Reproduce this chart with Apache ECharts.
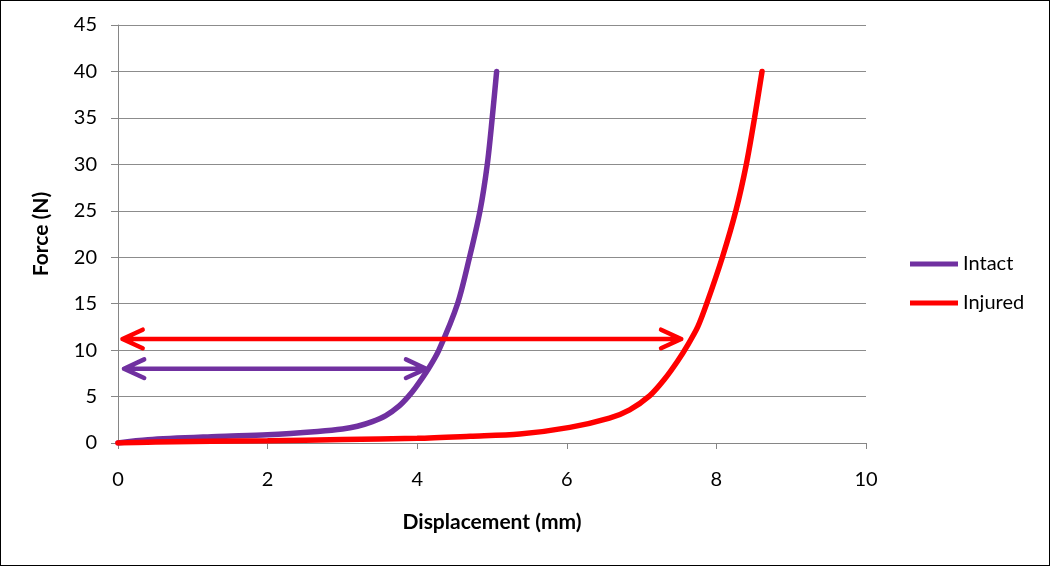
<!DOCTYPE html>
<html>
<head>
<meta charset="utf-8">
<script src="https://cdn.jsdelivr.net/npm/echarts@6/dist/echarts.min.js"></script>
<style>
	html, body { margin: 0; padding: 0; background: #fff; }
	#chart { width: 1050px; height: 566px; box-sizing: border-box; border: 1px solid #000; }
</style>
</head>
<body>
<div id="chart"></div>
<script>
	// displacement (mm) / force (N)
	var intactX = [0, 0.4, 1.33, 2.0, 2.67, 3.0, 3.2, 3.4, 3.58, 3.76, 3.88, 3.98, 4.15, 4.29, 4.54, 4.70, 4.84, 4.937, 5.003, 5.062];
	var intactY = [0, 0.35, 0.7, 0.9, 1.25, 1.5, 1.8, 2.3, 2.95, 4.0, 5.0, 6.0, 8.0, 10, 15, 20, 25, 30, 35, 40];
	var injuredX = [0, 0.5, 2.0, 3.0, 4.0, 4.71, 5.37, 6.04, 6.57, 6.84, 7.11, 7.3, 7.48, 7.62, 7.75, 7.87, 8.08, 8.26, 8.40, 8.51, 8.61];
	var injuredY = [0, 0.1, 0.25, 0.37, 0.5, 0.72, 0.96, 1.68, 2.68, 3.57, 5.1, 6.8, 8.8, 10.6, 12.5, 15, 20, 25, 30, 35, 40];
	// double arrows: [from x, to x, force level]
	var injuredArrow = [0.06, 7.53, 11.2];
	var intactArrow = [0.08, 4.12, 8.0];
	var xTicks = [0, 10, 2];
	var yTicks = [0, 45, 5];

	function pairs(xs, ys) {
		var out = [];
		for (var i = 0; i < xs.length; i++) {
			out.push([xs[i], ys[i]]);
		}
		return out;
	}

	// chevron head size in axis units
	var headX = 0.27, headY = 1.0;
	function arrow(a) {
		var x0 = a[0], x1 = a[1], y = a[2];
		return [
			[x0 + headX, y + headY], [x0, y], [x0 + headX, y - headY], [x0, '-'],
			[x0, y], [x1, y], [x1, '-'],
			[x1 - headX, y + headY], [x1, y], [x1 - headX, y - headY]
		];
	}

	var PURPLE = '#7030A0', RED = '#FF0000';
	var font = 'Lato, "Open Sans", sans-serif';

	var chart = echarts.init(document.getElementById('chart'));
	chart.setOption({
		animation: false,
		textStyle: { fontFamily: font },
		grid: { left: 117, right: 183, top: 24, bottom: 122 },
		legend: {
			data: ['Intact', 'Injured'],
			orient: 'vertical',
			left: 904,
			top: 248,
			icon: 'rect',
			itemWidth: 48,
			itemHeight: 5,
			itemGap: 19,
			textStyle: { fontSize: 20, color: '#000', fontFamily: font }
		},
		xAxis: {
			type: 'value',
			min: xTicks[0],
			max: xTicks[1],
			interval: xTicks[2],
			name: 'Displacement (mm)',
			nameLocation: 'middle',
			nameGap: 69,
			nameTextStyle: { fontSize: 21, fontWeight: 'bold', color: '#000' },
			axisLine: { lineStyle: { color: '#868686' } },
			axisTick: { show: true, length: 6, lineStyle: { color: '#868686' } },
			axisLabel: { fontSize: 20, color: '#000', margin: 27 },
			splitLine: { show: false }
		},
		yAxis: {
			type: 'value',
			min: yTicks[0],
			max: yTicks[1],
			interval: yTicks[2],
			name: 'Force (N)',
			nameLocation: 'middle',
			nameGap: 66,
			nameTextStyle: { fontSize: 21, fontWeight: 'bold', color: '#000' },
			axisLine: { show: true, lineStyle: { color: '#868686' } },
			axisTick: { show: true, length: 7, lineStyle: { color: '#868686' } },
			axisLabel: { fontSize: 20, color: '#000', margin: 21 },
			splitLine: { show: true, lineStyle: { color: '#8c8c8c', width: 1 } }
		},
		series: [
			{
				name: 'Injured',
				type: 'line',
				data: pairs(injuredX, injuredY),
				smooth: 0.3,
				showSymbol: false,
				color: RED,
				lineStyle: { color: RED, width: 5.5, cap: 'round' },
				z: 3
			},
			{
				name: 'Intact',
				type: 'line',
				data: pairs(intactX, intactY),
				smooth: 0.3,
				showSymbol: false,
				color: PURPLE,
				lineStyle: { color: PURPLE, width: 5.5, cap: 'round' },
				z: 2
			},
			{
				name: 'injuredArrow',
				type: 'line',
				data: arrow(injuredArrow),
				showSymbol: false,
				lineStyle: { color: RED, width: 4.5, cap: 'round', join: 'round' },
				z: 4
			},
			{
				name: 'intactArrow',
				type: 'line',
				data: arrow(intactArrow),
				showSymbol: false,
				lineStyle: { color: PURPLE, width: 4.5, cap: 'round', join: 'round' },
				z: 4
			}
		]
	});
</script>
</body>
</html>
